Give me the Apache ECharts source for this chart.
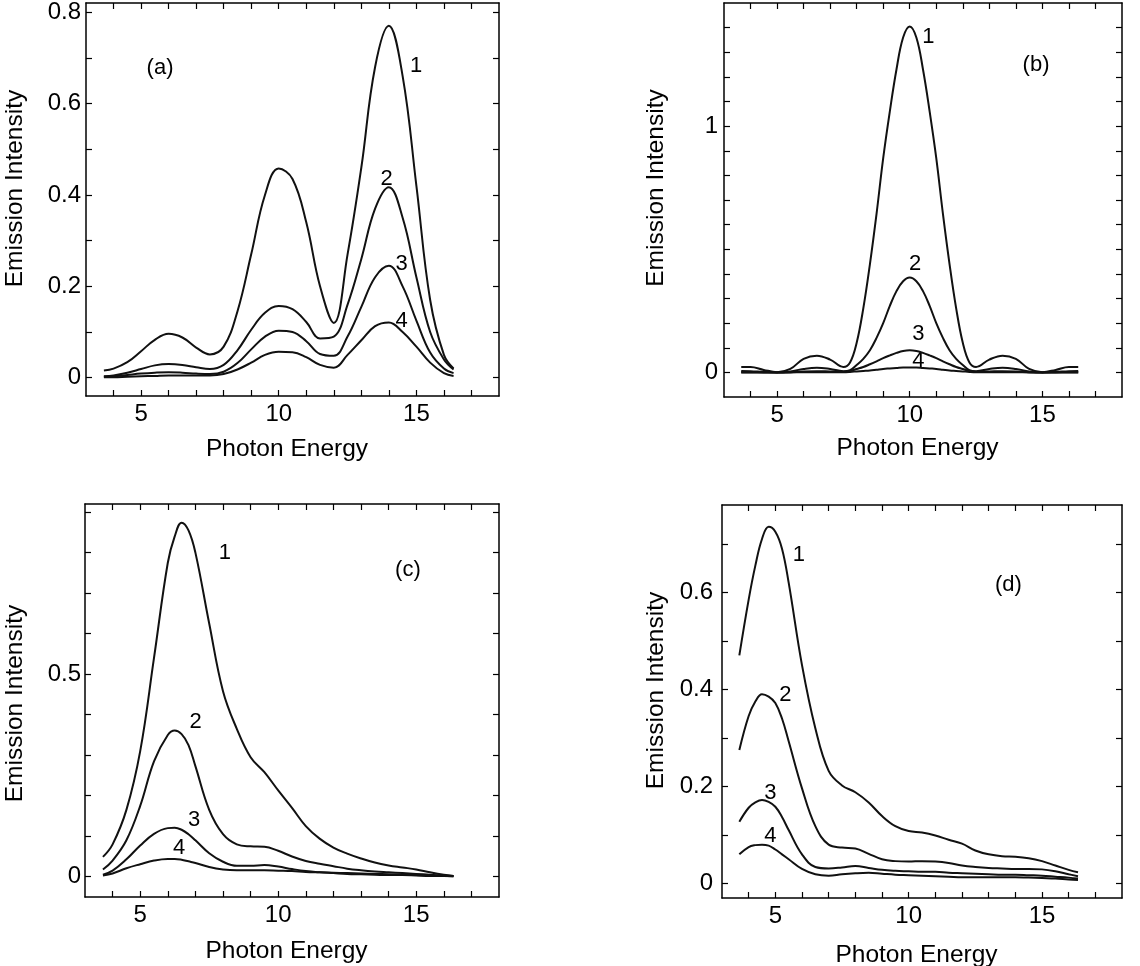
<!DOCTYPE html>
<html>
<head>
<meta charset="utf-8">
<script src="https://cdn.jsdelivr.net/npm/echarts@6.0.0/dist/echarts.min.js"></script>
<style>
html,body{margin:0;padding:0;background:#fff;}
#chart{width:1140px;height:966px;}
</style>
</head>
<body>
<div id="chart"></div>
<script>
// ---------- data ----------
const xTicks = [4,5,6,7,8,9,10,11,12,13,14,15,16,17];
const xLabels = [5,10,15];

// panel (a)
const xA = [3.65,4,4.5,5,5.5,6,6.5,7,7.5,8,8.5,9,9.5,10,10.5,11,11.5,12,12.5,13,13.5,14,14.5,15,15.5,16,16.35];
const a1 = [0.016,0.020,0.034,0.058,0.083,0.096,0.088,0.066,0.051,0.068,0.145,0.27,0.40,0.458,0.435,0.34,0.20,0.12,0.27,0.46,0.68,0.77,0.66,0.42,0.17,0.05,0.02];
const a2 = [0.003,0.005,0.011,0.019,0.027,0.030,0.028,0.023,0.019,0.028,0.06,0.105,0.142,0.157,0.15,0.122,0.086,0.09,0.16,0.26,0.37,0.417,0.35,0.22,0.10,0.04,0.018];
const a3 = [0.002,0.003,0.006,0.009,0.011,0.012,0.011,0.009,0.008,0.013,0.032,0.062,0.09,0.103,0.1,0.08,0.052,0.048,0.09,0.155,0.22,0.245,0.2,0.125,0.055,0.02,0.01];
const a4 = [0.001,0.001,0.002,0.003,0.004,0.005,0.005,0.005,0.005,0.008,0.018,0.033,0.05,0.057,0.056,0.045,0.028,0.022,0.05,0.082,0.113,0.121,0.10,0.068,0.033,0.01,0.004];
const yTicksA = [0,0.1,0.2,0.3,0.4,0.5,0.6,0.7,0.8];
const yLabelsA = [0,0.2,0.4,0.6,0.8];
const notesA = [[5.69,0.677,'(a)'],[14.99,0.683,'1'],[13.92,0.436,'2'],[14.46,0.25,'3'],[14.46,0.125,'4']];

// panel (b)
const xB = [3.65,4,4.5,5,5.5,6,6.5,7,7.5,7.75,8,8.25,8.5,8.75,9,9.25,9.5,9.75,10,10.25,10.5,10.75,11,11.25,11.5,11.75,12,12.25,12.5,13,13.5,14,14.5,15,15.5,16,16.35];
const b1 = [0.022,0.022,0.010,0.001,0.014,0.055,0.068,0.052,0.022,0.04,0.12,0.26,0.44,0.645,0.87,1.06,1.23,1.36,1.405,1.36,1.23,1.06,0.87,0.645,0.44,0.26,0.12,0.04,0.022,0.052,0.068,0.055,0.014,0.001,0.010,0.022,0.022];
const b2 = [0.006,0.005,0.002,0.0,0.004,0.014,0.019,0.014,0.005,0.009,0.03,0.055,0.09,0.14,0.20,0.27,0.33,0.37,0.385,0.37,0.33,0.27,0.20,0.14,0.09,0.055,0.03,0.009,0.005,0.014,0.019,0.014,0.004,0.0,0.002,0.005,0.006];
const b3 = [0.001,0.001,0.0,0.0,0.001,0.004,0.005,0.004,0.003,0.006,0.014,0.022,0.033,0.045,0.058,0.069,0.079,0.087,0.09,0.087,0.079,0.069,0.058,0.045,0.033,0.022,0.014,0.006,0.003,0.004,0.005,0.004,0.001,0.0,0.0,0.001,0.001];
const b4 = [0,0,0,0,0,0.001,0.001,0.001,0.001,0.002,0.004,0.006,0.008,0.011,0.014,0.016,0.018,0.02,0.02,0.02,0.018,0.016,0.014,0.011,0.008,0.006,0.004,0.002,0.001,0.001,0.001,0.001,0,0,0,0,0];
const yTicksB = [0,0.1,0.2,0.3,0.4,0.5,0.6,0.7,0.8,0.9,1.0,1.1,1.2,1.3,1.4];
const yLabelsB = [0,1];
const notesB = [[14.76,1.247,'(b)'],[10.7,1.362,'1'],[10.2,0.44,'2'],[10.33,0.156,'3'],[10.33,0.048,'4']];

// panel (c)
const xC = [3.65,4,4.5,5,5.5,6,6.25,6.5,6.75,7,7.5,8,8.5,9,9.5,10,10.5,11,11.5,12,12.5,13,13.5,14,14.5,15,15.5,16,16.35];
const c1 = [0.049,0.08,0.165,0.31,0.54,0.775,0.84,0.874,0.855,0.80,0.625,0.458,0.365,0.295,0.258,0.213,0.17,0.125,0.094,0.072,0.057,0.045,0.035,0.028,0.023,0.018,0.011,0.005,0.002];
const c2 = [0.018,0.04,0.09,0.175,0.285,0.35,0.361,0.352,0.325,0.273,0.165,0.105,0.08,0.075,0.074,0.064,0.05,0.039,0.032,0.026,0.02,0.016,0.013,0.011,0.009,0.007,0.005,0.003,0.002];
const c3 = [0.005,0.015,0.043,0.077,0.106,0.12,0.121,0.116,0.105,0.09,0.058,0.037,0.027,0.027,0.029,0.025,0.019,0.014,0.011,0.009,0.007,0.006,0.005,0.004,0.004,0.003,0.002,0.002,0.001];
const c4 = [0.003,0.008,0.021,0.031,0.040,0.044,0.044,0.042,0.038,0.034,0.024,0.018,0.016,0.016,0.016,0.015,0.014,0.012,0.011,0.010,0.009,0.008,0.007,0.006,0.005,0.004,0.003,0.002,0.001];
const yTicksC = [0,0.1,0.2,0.3,0.4,0.5,0.6,0.7,0.8,0.9];
const yLabelsC = [0,0.5];
const notesC = [[14.7,0.757,'(c)'],[8.07,0.798,'1'],[7.01,0.383,'2'],[6.95,0.141,'3'],[6.41,0.071,'4']];

// panel (d)
const xD = [3.65,4,4.25,4.5,4.75,5,5.25,5.5,6,6.5,7,7.5,8,8.5,9,9.5,10,10.5,11,11.5,12,12.5,13,13.5,14,14.5,15,15.5,16,16.35];
const d1 = [0.47,0.585,0.655,0.71,0.735,0.725,0.69,0.62,0.45,0.32,0.232,0.202,0.188,0.167,0.139,0.118,0.108,0.105,0.099,0.09,0.082,0.068,0.06,0.056,0.055,0.052,0.046,0.037,0.028,0.023];
const d2 = [0.275,0.345,0.375,0.39,0.385,0.372,0.34,0.293,0.196,0.118,0.08,0.074,0.072,0.061,0.05,0.046,0.045,0.046,0.045,0.042,0.037,0.034,0.032,0.031,0.030,0.030,0.029,0.025,0.019,0.015];
const d3 = [0.127,0.156,0.167,0.172,0.168,0.158,0.137,0.11,0.06,0.034,0.031,0.033,0.036,0.032,0.028,0.026,0.025,0.024,0.024,0.022,0.021,0.020,0.019,0.018,0.018,0.017,0.016,0.014,0.012,0.010];
const d4 = [0.06,0.075,0.079,0.08,0.078,0.07,0.06,0.05,0.03,0.019,0.016,0.019,0.021,0.022,0.020,0.018,0.017,0.016,0.015,0.014,0.013,0.013,0.013,0.013,0.013,0.012,0.011,0.010,0.008,0.007];
const yTicksD = [0,0.1,0.2,0.3,0.4,0.5,0.6,0.7];
const yLabelsD = [0,0.2,0.4,0.6];
const notesD = [[13.74,0.616,'(d)'],[5.88,0.678,'1'],[5.38,0.389,'2'],[4.81,0.187,'3'],[4.81,0.097,'4']];

const xTitle = 'Photon Energy';
const yTitle = 'Emission Intensity';

// ---------- layout ----------
const FONT = 'Liberation Sans, Arial, Helvetica, sans-serif';
const INK = '#000';
const panels = [
  {grid:{left:86,top:3,width:413,height:393}, yMin:-0.04, yMax:0.82, x:xA, ys:[a1,a2,a3,a4], yTicks:yTicksA, yLabels:yLabelsA, notes:notesA, gapY:58, gapX:41, lblM:5, padY:[0,0,0,22]},
  {grid:{left:724,top:3,width:398,height:394}, yMin:-0.1, yMax:1.5, x:xB, ys:[b1,b2,b3,b4], yTicks:yTicksB, yLabels:yLabelsB, notes:notesB, gapY:55, gapX:39, lblM:6, padY:[0,0,0,24]},
  {grid:{left:85,top:504,width:414,height:393}, yMin:-0.05, yMax:0.92, x:xC, ys:[c1,c2,c3,c4], yTicks:yTicksC, yLabels:yLabelsC, notes:notesC, gapY:57, gapX:42, lblM:4, padY:[0,6,0,0]},
  {grid:{left:722,top:505,width:400,height:393}, yMin:-0.03, yMax:0.78, x:xD, ys:[d1,d2,d3,d4], yTicks:yTicksD, yLabels:yLabelsD, notes:notesD, gapY:53, gapX:45, lblM:9, padY:[0,0,0,22]}
];

const grids = [], xAxes = [], yAxes = [], series = [];

panels.forEach((p, i) => {
  grids.push(Object.assign({containLabel:false, outerBoundsMode:'none'}, p.grid));
  ['bottom','top'].forEach(pos => {
    xAxes.push({
      type:'value', gridIndex:i, position:pos, min:3, max:18,
      axisLine:{show:true, onZero:false, lineStyle:{color:INK, width:1.5}},
      axisTick:{show:true, inside:true, length:6, customValues:xTicks, lineStyle:{color:INK, width:1.2}},
      axisLabel:{show:pos==='bottom', customValues:xLabels, margin:6, color:INK, fontSize:24, fontFamily:FONT},
      splitLine:{show:false},
      name: pos==='bottom' ? xTitle : '', nameLocation:'middle', nameGap:p.gapX,
      nameTextStyle:{color:INK, fontSize:24.5, fontFamily:FONT, padding:[0,11,0,0]}
    });
  });
  ['left','right'].forEach(pos => {
    yAxes.push({
      type:'value', gridIndex:i, position:pos, min:p.yMin, max:p.yMax,
      axisLine:{show:true, onZero:false, lineStyle:{color:INK, width:1.5}},
      axisTick:{show:true, inside:true, length:6, customValues:p.yTicks, lineStyle:{color:INK, width:1.2}},
      axisLabel:{show:pos==='left', customValues:p.yLabels, margin:p.lblM, color:INK, fontSize:24, fontFamily:FONT},
      splitLine:{show:false},
      name: pos==='left' ? yTitle : '', nameLocation:'middle', nameGap:p.gapY,
      nameTextStyle:{color:INK, fontSize:24.5, fontFamily:FONT, padding:p.padY}
    });
  });
  p.ys.forEach(ys => {
    series.push({
      type:'line', xAxisIndex:2*i, yAxisIndex:2*i,
      data: p.x.map((xv, k) => [xv, ys[k]]),
      showSymbol:false, smooth:0.4, silent:true,
      lineStyle:{color:'#111', width:2}
    });
  });
  series.push({
    type:'scatter', xAxisIndex:2*i, yAxisIndex:2*i, symbolSize:1, silent:true,
    itemStyle:{opacity:1, color:'rgba(0,0,0,0)'},
    data: p.notes,
    label:{show:true, position:'inside', formatter: q => q.value[2], color:INK, opacity:1, fontSize:22, fontFamily:FONT}
  });
});

const chart = echarts.init(document.getElementById('chart'), null, {renderer:'canvas', width:1140, height:966});
chart.setOption({
  animation:false,
  backgroundColor:'#fff',
  grid:grids, xAxis:xAxes, yAxis:yAxes, series:series
});
</script>
</body>
</html>
